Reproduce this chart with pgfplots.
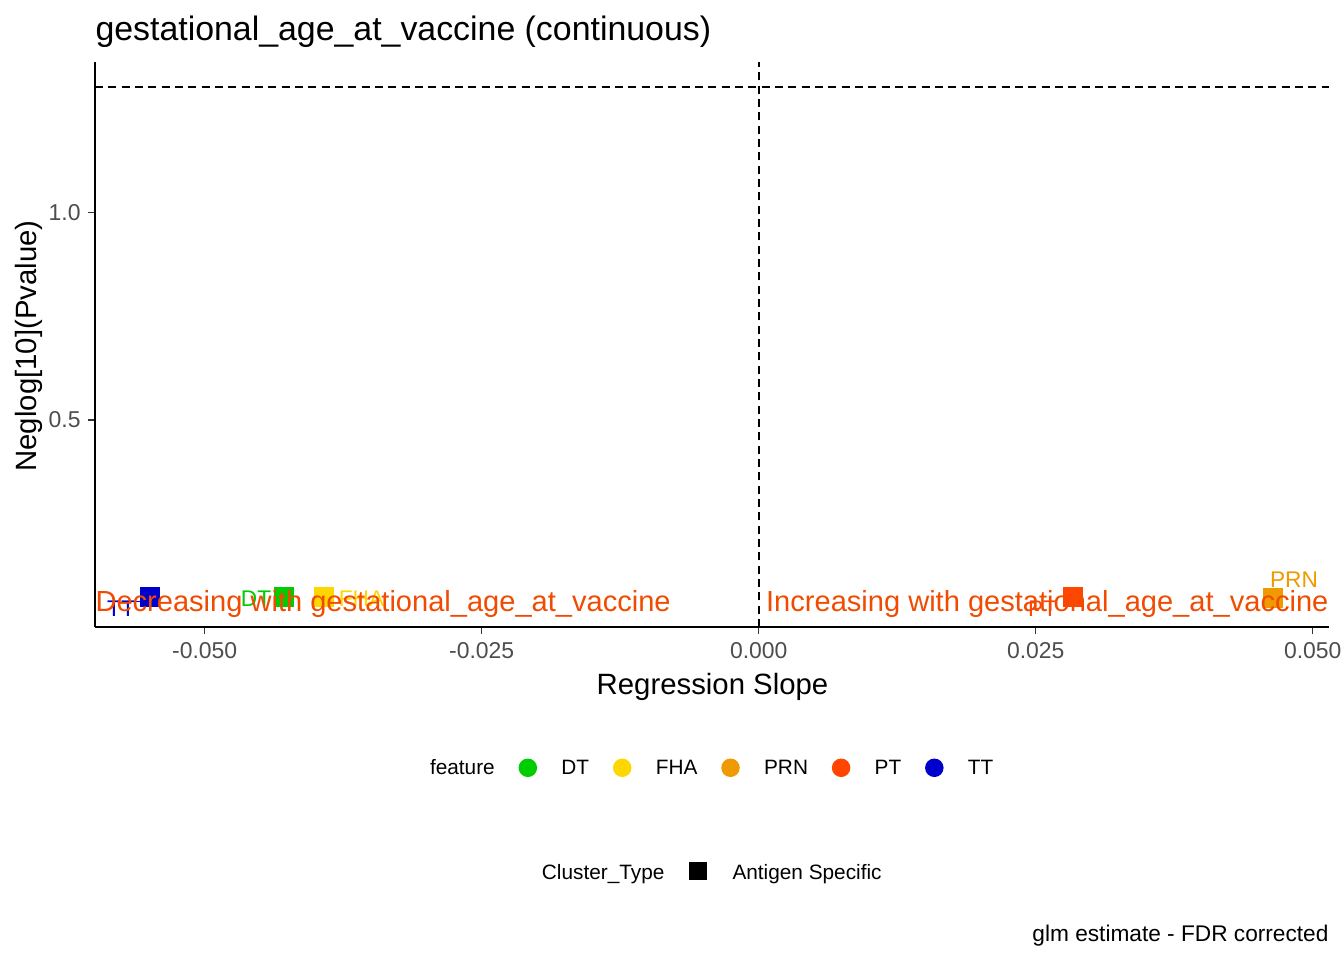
\documentclass[border=0pt]{standalone}
\usepackage{pgfplots}
\pgfplotsset{compat=1.18}
\usepackage{fontspec}
\setmainfont{Liberation Sans}
\definecolor{cDT}{HTML}{00CD00}
\definecolor{cFHA}{HTML}{FFD700}
\definecolor{cPRN}{HTML}{EE9A00}
\definecolor{cPT}{HTML}{FF4500}
\definecolor{cTT}{HTML}{0000CD}
\definecolor{gray30}{HTML}{4D4D4D}
\definecolor{gray20}{HTML}{333333}
\definecolor{annot}{RGB}{240,75,0}
\pgfplotsset{
  legcirc/.style={legend image code/.code={\path[draw=none,fill=none] (-12.4pt,0pt) -- (12.6pt,0pt); \fill[#1,draw=none] (0pt,0.6pt) circle (3.47pt);}},
  legsq/.style={legend image code/.code={\path[draw=none,fill=none] (-12.6pt,0pt) -- (12.9pt,0pt); \fill[#1,draw=none] (-3.45pt,-2.2pt) rectangle (3.45pt,4.7pt);}},
}
\begin{document}
\begin{tikzpicture}
\begin{axis}[
  at={(0,0)}, anchor=south west,
  scale only axis, width=462.75pt, height=211.9pt,
  xmin=-0.0599, xmax=0.05147, ymin=0.001, ymax=1.3624,
  axis x line*=bottom, axis y line*=left,
  axis line style={line width=0.8pt, -, black},
  xtick={-0.05,-0.025,0,0.025,0.05},
  xticklabels={-0.050,-0.025,0.000,0.025,0.050},
  scaled x ticks=false, scaled y ticks=false,
  ytick={0.5,1}, yticklabels={0.5,1.0},
  tick align=outside, major tick length=2.6pt,
  tick style={gray20, line width=0.5pt},
  xticklabel style={font=\fontsize{8.6}{10}\selectfont, text=gray30, inner sep=0pt, yshift=-3pt},
  yticklabel style={font=\fontsize{8.6}{10}\selectfont, text=gray30, inner sep=0pt, xshift=-2.6pt},
  legend columns=-1,
  legend style={at={(0.2715,-0.2508)}, anchor=west, draw=none, fill=none,
    inner sep=0pt, outer sep=0pt, font=\fontsize{7.8}{9}\selectfont,
    /tikz/column sep=0pt, nodes={inner sep=0pt}},
  legend cell align=left,
]
\addplot[black, line width=0.8pt, dash pattern=on 3pt off 2pt, forget plot] coordinates {(-0.0599,1.30103) (0.05147,1.30103)};
\addplot[black, line width=0.8pt, dash pattern=on 3pt off 2pt, forget plot] coordinates {(0,0.001) (0,1.3624)};
\addplot[only marks, mark=square*, mark size=3.56pt, color=cTT, forget plot] coordinates {(-0.05491,0.073)};
\addplot[only marks, mark=square*, mark size=3.56pt, color=cDT, forget plot] coordinates {(-0.04280,0.074)};
\addplot[only marks, mark=square*, mark size=3.56pt, color=cFHA, forget plot] coordinates {(-0.03919,0.073)};
\addplot[only marks, mark=square*, mark size=3.56pt, color=cPT, forget plot] coordinates {(0.02834,0.073)};
\addplot[only marks, mark=square*, mark size=3.56pt, color=cPRN, forget plot] coordinates {(0.04639,0.072)};
\addlegendimage{empty legend}\addlegendentry{feature}
\addlegendimage{legcirc=cDT}\addlegendentry{DT}
\addlegendimage{legcirc=cFHA}\addlegendentry{FHA}
\addlegendimage{legcirc=cPRN}\addlegendentry{PRN}
\addlegendimage{legcirc=cPT}\addlegendentry{PT}
\addlegendimage{legcirc=cTT}\addlegendentry{TT}
\end{axis}
\begin{axis}[
  at={(0,0)}, anchor=south west,
  scale only axis, width=462.75pt, height=211.9pt,
  xmin=0, xmax=1, ymin=0, ymax=1, hide axis,
  legend columns=-1,
  legend style={at={(0.3622,-0.4349)}, anchor=west, draw=none, fill=none,
    inner sep=0pt, outer sep=0pt, font=\fontsize{7.8}{9}\selectfont,
    /tikz/column sep=0pt, nodes={inner sep=0pt}},
  legend cell align=left,
]
\addlegendimage{empty legend}\addlegendentry{Cluster\_Type}
\addlegendimage{legsq=black}\addlegendentry{Antigen Specific}
\end{axis}
\begin{scope}[shift={(-35.625pt,235.125pt)}, x=0.375pt, y=-0.375pt]
  % point labels
  \draw[cTT, line width=0.5pt] (132,601.7) -- (141,601.7);
  \node[anchor=base, inner sep=0pt, text=cTT, font=\fontsize{8.5}{10}\selectfont] at (121,616) {TT};
  \node[anchor=base, inner sep=0pt, text=cDT, font=\fontsize{8.5}{10}\selectfont] at (256,606.7) {DT};
  \node[anchor=base, inner sep=0pt, text=cFHA, font=\fontsize{8.5}{10}\selectfont] at (361.5,606.7) {FHA};
  \node[anchor=base, inner sep=0pt, text=cPT, font=\fontsize{8.5}{10}\selectfont] at (1042.5,616) {PT};
  \node[anchor=base, inner sep=0pt, text=cPRN, font=\fontsize{8.5}{10}\selectfont] at (1294,587.3) {PRN};
  % annotations
  \node[anchor=base west, inner sep=0pt, text=annot, font=\fontsize{10.9}{13}\selectfont] at (95,611) {Decreasing with gestational\_age\_at\_vaccine};
  \node[anchor=base east, inner sep=0pt, text=annot, font=\fontsize{10.9}{13}\selectfont] at (1329,611) {Increasing with gestational\_age\_at\_vaccine};
  % titles
  \node[anchor=base west, inner sep=0pt, font=\fontsize{12.7}{15}\selectfont] at (95,40) {gestational\_age\_at\_vaccine (continuous)};
  \node[anchor=base, inner sep=0pt, font=\fontsize{11}{13}\selectfont] at (712.5,694) {Regression Slope};
  \node[anchor=base, inner sep=0pt, rotate=90, font=\fontsize{11}{13}\selectfont] at (36,346) {Neglog[10](Pvalue)};
  \node[anchor=base east, inner sep=0pt, font=\fontsize{8.5}{10}\selectfont] at (1329,941) {glm estimate - FDR corrected};
  \pgfresetboundingbox
  \useasboundingbox (0,0) rectangle (1344,960);
\end{scope}
\end{tikzpicture}
\end{document}
